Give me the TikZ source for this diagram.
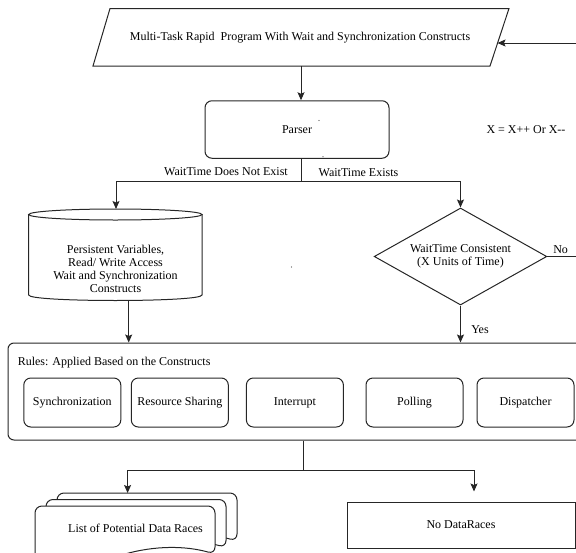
\documentclass[tikz,border=0pt]{standalone}
\usepackage{fontspec}
\setmainfont{Liberation Serif}
\usetikzlibrary{shapes.geometric,arrows.meta}
\begin{document}
\begin{tikzpicture}[x=1pt,y=-1pt,
  line/.style={draw=black!85, line width=1pt},
  arr/.style={line, -{Stealth[length=8pt,width=7pt,inset=1.5pt]}},
  lbl/.style={font=\fontsize{12}{13}\selectfont, inner sep=0pt, align=center},
  rulebox/.style={line, lbl, rounded corners=7pt, minimum width=97pt, minimum height=49pt},
  pagedoc/.pic={
    \draw[line, fill=white] (0,48) [rounded corners=7pt] -- (0,0) -- (180,0) -- (180,48) [sharp corners]
      .. controls (150,39.6) and (120,39.6) .. (90,48)
      .. controls (60,56.4) and (30,56.4) .. (0,48) -- cycle;
  }]
\useasboundingbox (0,0) rectangle (576,552);

% input program (parallelogram)
\draw[line] (110,8.5) -- (509,8.5) -- (490,66) -- (93,66) -- cycle;
\node[lbl] (prog) at (300,38) {Multi-Task Rapid\ \ Program With Wait and Synchronization Constructs};
\coordinate (progS) at (301,66);
\coordinate (progE) at (497.5,43);

% parser
\node[line, lbl, rounded corners=7pt, minimum width=184pt, minimum height=57.5pt] (parser) at (297,129.5) {Parser};
\draw[arr] (progS) -- (progS |- parser.north);
\fill[black!70] (319,120.5) circle[radius=0.7pt];
\fill[black!70] (323,156.7) circle[radius=0.7pt];
\node[lbl] (incr) at (526,130) {X = X++ Or X-{}-};

% branch after the parser
\coordinate (split) at (301,181);
\coordinate (storeTop) at (116,209);
\draw[line] (progS |- parser.south) -- (split);
\node[lbl] (noWait) at (226,172) {WaitTime Does Not Exist};
\node[lbl] (hasWait) at (358.5,173) {WaitTime Exists};

% store of persistent variables (cylinder)
\draw[line] (28.7,214.5) -- (28.7,295) .. controls (28.7,302.33) and (202,302.33) .. (202,295) -- (202,214.5);
\draw[line] (115.35,214.5) ellipse[x radius=86.65pt, y radius=5.5pt];
\node[lbl] (store) at (115.5,269) {Persistent Variables,\\Read/ Write Access\\Wait and Synchronization\\Constructs};
\coordinate (storeBot) at (128.7,300.4);
\fill[black!70] (291.5,267) circle[radius=0.7pt];

% decision
\node[line, lbl, diamond, aspect=1.78, minimum width=172.6pt, minimum height=97pt] (dia) at (460.5,256.5) {WaitTime Consistent\\(X Units of Time)};
\draw[arr] (split) -| (storeTop);
\draw[arr] (split) -| (dia.north);
\node[lbl] (noLbl) at (560.6,250) {No};
\draw[arr] (dia.east) -- ++(43,0) |- (progE);

% rules container
\node[line, rounded corners=6pt, minimum width=582pt, minimum height=97pt, inner sep=0pt] (rules) at (299,391.5) {};
\node[lbl, anchor=west] (rulesTitle) at (17.6,363) {Rules: Applied Based on the Constructs};
\node[rulebox] (sync) at (72.3,402.5) {Synchronization};
\node[rulebox] (share) at (179.8,402.5) {Resource Sharing};
\node[rulebox] (intr) at (294.9,402.5) {Interrupt};
\node[rulebox] (poll) at (414.5,402.5) {Polling};
\node[rulebox] (disp) at (525.5,402.5) {Dispatcher};

\draw[arr] (storeBot) -- (storeBot |- rules.north);
\draw[arr] (dia.south) -- (dia.south |- rules.north);
\node[lbl] (yesLbl) at (480,330) {Yes};

% outcomes
\coordinate (splitB) at (303,470);
\coordinate (stackTop) at (127.6,493);
\draw[line] (splitB |- rules.south) -- (splitB);
\pic at (57,493) {pagedoc};
\pic at (46,499.5) {pagedoc};
\pic at (35,506) {pagedoc};
\node[lbl] (races) at (135.5,528) {List of Potential Data Races};
\node[line, lbl, minimum width=228pt, minimum height=46pt] (nodr) at (461,525) {No DataRaces};
\draw[arr] (splitB) -| (stackTop);
\draw[arr, shorten >=10pt] (splitB) -| ([xshift=13pt]nodr.north);
\end{tikzpicture}
\end{document}
